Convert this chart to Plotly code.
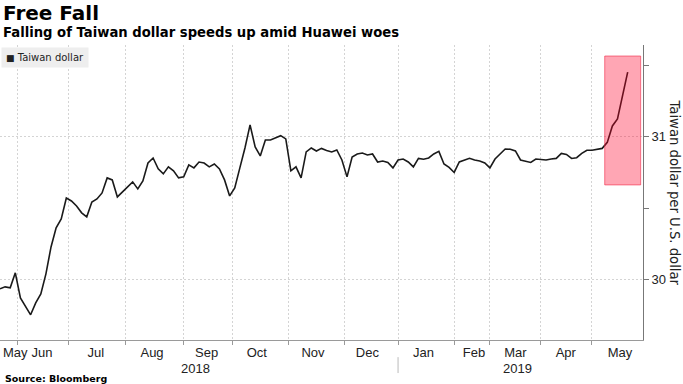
import pandas as pd
import plotly.graph_objects as go

# ---------------- data ----------------
holidays = ["2018-06-18", "2018-09-24", "2018-10-10", "2019-01-01",
            "2019-02-04", "2019-02-05", "2019-02-06", "2019-02-07", "2019-02-08",
            "2019-02-28", "2019-03-01", "2019-04-04", "2019-04-05", "2019-05-01"]
first_day = "2018-05-23"
last_day = "2019-05-22"
axis_end = "2019-05-30"

# USD/TWD, read every second trading day (plus the last one)
twd = [29.937, 29.951, 29.944, 30.049, 29.874, 29.812, 29.756, 29.839, 29.902, 30.042,
       30.230, 30.363, 30.426, 30.572, 30.551, 30.516, 30.468, 30.440, 30.544, 30.565,
       30.607, 30.712, 30.698, 30.579, 30.614, 30.642, 30.684, 30.635, 30.691, 30.816,
       30.851, 30.775, 30.740, 30.789, 30.761, 30.712, 30.719, 30.803, 30.782, 30.823,
       30.816, 30.789, 30.809, 30.775, 30.698, 30.586, 30.642, 30.782, 30.921, 31.082,
       30.928, 30.865, 30.977, 30.977, 30.994, 31.007, 30.984, 30.761, 30.789, 30.712,
       30.893, 30.921, 30.900, 30.918, 30.904, 30.893, 30.907, 30.837, 30.719, 30.858,
       30.879, 30.886, 30.872, 30.879, 30.823, 30.830, 30.819, 30.782, 30.837, 30.844,
       30.823, 30.789, 30.848, 30.842, 30.851, 30.879, 30.897, 30.809, 30.785, 30.750,
       30.823, 30.837, 30.849, 30.837, 30.830, 30.816, 30.782, 30.844, 30.876, 30.914,
       30.912, 30.900, 30.837, 30.830, 30.820, 30.844, 30.841, 30.837, 30.844, 30.848,
       30.883, 30.876, 30.848, 30.853, 30.883, 30.905, 30.905, 30.911, 30.918, 30.960,
       31.075, 31.124, 31.284, 31.451]

month_labels = ["May", "Jun", "Jul", "Aug", "Sep", "Oct", "Nov", "Dec",
                "Jan", "Feb", "Mar", "Apr", "May"]
month_label_dates = ["2018-05-31", "2018-06-14 12:00", "2018-07-16 14:00", "2018-08-15 14:00",
                     "2018-09-14", "2018-10-15 16:00", "2018-11-14 16:00", "2018-12-14",
                     "2019-01-16", "2019-02-19 18:00", "2019-03-18", "2019-04-16 18:00",
                     "2019-05-17"]
year_labels = ["2018", "2019"]
year_label_dates = ["2018-09-07 18:00", "2019-03-19"]

highlight_x = ["2019-05-09", "2019-05-29 02:00"]
highlight_y = [30.663, 31.563]

# ---------------- derived dates ----------------
trading_days = [d for d in pd.bdate_range(first_day, last_day)
                if d.strftime("%Y-%m-%d") not in holidays]
idx = list(range(0, len(trading_days), 2))
if idx[-1] != len(trading_days) - 1:
    idx.append(len(trading_days) - 1)
dates = [trading_days[i] for i in idx]
n = min(len(dates), len(twd))
dates, vals = dates[:n], twd[:n]

month_starts = []
prev = None
for d in trading_days:
    key = (d.year, d.month)
    if prev is not None and key != prev:
        month_starts.append(d)
    prev = key
jan_start = [d for d in month_starts if d.month == 1][0]

# ---------------- figure ----------------
fig = go.Figure()
fig.add_trace(go.Scatter(x=dates, y=vals, mode="lines",
                         line=dict(color="#1a1a1a", width=1.6),
                         showlegend=False, hoverinfo="skip"))

fig.add_shape(type="rect", xref="x", yref="y",
              x0=highlight_x[0], x1=highlight_x[1], y0=highlight_y[0], y1=highlight_y[1],
              fillcolor="rgba(255,0,40,0.35)", line=dict(color="rgba(240,40,70,0.6)", width=1),
              layer="above")

fig.add_shape(type="line", xref="x", yref="paper", x0=jan_start, x1=jan_start,
              y0=-0.058, y1=-0.112, line=dict(color="#bbbbbb", width=1))

grid = "#d4d4d4"
fig.update_layout(
    width=683, height=384,
    margin=dict(l=0, r=40, t=45, b=44),
    paper_bgcolor="white", plot_bgcolor="white",
    showlegend=False,
    xaxis=dict(
        type="date", range=[first_day, axis_end],
        rangebreaks=[dict(bounds=["sat", "mon"]), dict(values=holidays)],
        tickmode="array", tickvals=month_label_dates, ticktext=month_labels,
        ticks="", showgrid=False, zeroline=False, automargin=False,
        tickfont=dict(family="Liberation Sans Narrow, Arial Narrow, sans-serif", size=13, color="#222"),
        showline=True, linecolor="#9a9a9a", linewidth=1,
        minor=dict(tickmode="array", tickvals=month_starts, ticks="outside", ticklen=4,
                   tickcolor="#9a9a9a", showgrid=True, gridcolor=grid, griddash="2px,2px", gridwidth=1),
    ),
    yaxis=dict(
        side="right", range=[29.58, 31.64],
        tickmode="array", tickvals=[30, 31], ticktext=["30", "31"],
        ticks="outside", ticklen=5, tickcolor="#777",
        showgrid=True, gridcolor=grid, griddash="2px,2px", gridwidth=1,
        zeroline=False, automargin=False,
        showline=True, linecolor="#777", linewidth=1,
        tickfont=dict(family="Liberation Sans, Arial, sans-serif", size=13, color="#222"),
        minor=dict(tickmode="array", tickvals=[30.5, 31.5], ticks="outside", ticklen=5,
                   tickcolor="#777", showgrid=False),
    ),
)

ann = []
ann.append(dict(text="<b>Free Fall</b>", x=0, xref="paper", xshift=1, y=1.108, yref="paper",
                xanchor="left", yanchor="middle", showarrow=False,
                font=dict(family="DejaVu Sans", size=20, color="#000")))
ann.append(dict(text="<b>Falling of Taiwan dollar speeds up amid Huawei woes</b>", x=0, xref="paper",
                xshift=1, y=1.041, yref="paper", xanchor="left", yanchor="middle", showarrow=False,
                font=dict(family="DejaVu Sans", size=13.2, color="#000")))
ann.append(dict(text="<span style='font-size:9px'>■</span> Taiwan dollar", x=0, xref="paper", xshift=1,
                y=0.993, yref="paper", xanchor="left", yanchor="top", showarrow=False,
                bgcolor="#eeeeee", borderpad=4,
                font=dict(family="DejaVu Sans", size=10, color="#222")))
ann.append(dict(text="Taiwan dollar per U.S. dollar", x=1, xref="paper", xshift=31, y=0.5, yref="paper",
                xanchor="center", yanchor="middle", textangle=90, showarrow=False,
                font=dict(family="DejaVu Sans", size=13.2, color="#222")))
ann.append(dict(text="<b>Source: Bloomberg</b>", x=0, xref="paper", xshift=3, y=-0.129, yref="paper",
                xanchor="left", yanchor="middle", showarrow=False,
                font=dict(family="DejaVu Sans", size=9.5, color="#000")))
for t, d in zip(year_labels, year_label_dates):
    ann.append(dict(text=t, x=d, xref="x", y=-0.095, yref="paper", xanchor="center",
                    yanchor="middle", showarrow=False,
                    font=dict(family="Liberation Sans Narrow, Arial Narrow, sans-serif", size=13, color="#222")))
fig.update_layout(annotations=ann)

fig.write_html("out.html", config={"displayModeBar": False},
               post_script="document.body.style.margin='0';document.body.style.padding='0';")
